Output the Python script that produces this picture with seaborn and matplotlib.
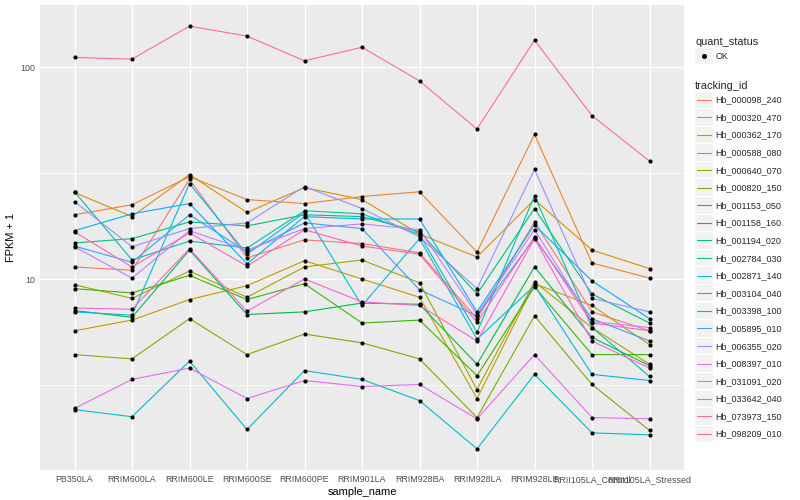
import numpy as np
import pandas as pd
import matplotlib
matplotlib.use('Agg')
import matplotlib.pyplot as plt
import seaborn as sns
from matplotlib.lines import Line2D
from matplotlib.patches import Rectangle
from matplotlib.legend_handler import HandlerBase
from matplotlib.ticker import NullFormatter

# samples on the x axis
samples = ['PB350LA', 'RRIM600LA', 'RRIM600LE', 'RRIM600SE', 'RRIM600PE', 'RRIM901LA',
           'RRIM928BA', 'RRIM928LA', 'RRIM928LE', 'RRII105LA_Control', 'RRII105LA_Stressed']

tracking_ids = ['Hb_000098_240', 'Hb_000320_470', 'Hb_000362_170', 'Hb_000588_080',
                'Hb_000640_070', 'Hb_000820_150', 'Hb_001153_050', 'Hb_001158_160',
                'Hb_001194_020', 'Hb_002784_030', 'Hb_002871_140', 'Hb_003104_040',
                'Hb_003398_100', 'Hb_005895_010', 'Hb_006355_020', 'Hb_008397_010',
                'Hb_031091_020', 'Hb_033642_040', 'Hb_073973_150', 'Hb_098209_010']

# FPKM + 1 per gene, in sample order
hb_000098_240 = [11.4, 11.0, 29.5, 12.6, 15.3, 14.7, 13.3, 6.5, 18.6, 7.0, 5.7]
hb_000320_470 = [20.1, 22.4, 30.4, 23.7, 22.7, 24.5, 25.8, 13.4, 48.1, 11.9, 10.1]
hb_000362_170 = [25.6, 19.7, 31.1, 20.6, 27.0, 23.7, 16.3, 12.7, 23.7, 13.7, 11.2]
hb_000588_080 = [5.7, 6.4, 8.0, 9.3, 12.2, 10.0, 8.2, 2.73, 9.5, 7.5, 4.9]
hb_000640_070 = [9.4, 8.1, 10.9, 8.2, 11.4, 12.3, 9.6, 3.01, 9.7, 5.9, 3.96]
hb_000820_150 = [4.4, 4.2, 6.5, 4.4, 5.5, 5.0, 4.2, 2.22, 6.7, 3.18, 1.93]
hb_001153_050 = [9.0, 8.6, 10.4, 8.0, 9.5, 6.2, 6.4, 3.5, 9.2, 4.4, 4.4]
hb_001158_160 = [7.1, 6.6, 13.7, 6.8, 7.0, 7.7, 7.6, 3.96, 11.4, 5.3, 3.9]
hb_001194_020 = [14.8, 15.5, 18.6, 17.8, 20.1, 19.7, 16.7, 8.5, 21.5, 8.5, 6.2]
hb_002784_030 = [25.8, 12.3, 15.1, 14.0, 21.0, 20.3, 16.2, 5.6, 24.7, 5.9, 3.47]
hb_002871_140 = [2.42, 2.24, 4.1, 1.95, 3.7, 3.36, 2.67, 1.58, 3.55, 1.88, 1.84]
hb_003104_040 = [7.0, 6.75, 28.2, 13.1, 20.6, 7.5, 15.5, 5.2, 9.3, 3.55, 3.32]
hb_003398_100 = [16.9, 20.3, 22.7, 11.8, 19.7, 19.2, 19.2, 7.0, 18.0, 9.8, 6.5]
hb_005895_010 = [14.3, 12.0, 20.1, 13.4, 18.4, 17.3, 8.9, 6.7, 15.6, 6.5, 5.1]
hb_006355_020 = [23.2, 14.2, 17.3, 18.4, 27.3, 21.5, 15.8, 9.0, 32.9, 8.1, 7.0]
hb_008397_010 = [14.2, 10.1, 16.9, 13.7, 17.3, 18.2, 17.1, 6.8, 17.1, 6.3, 5.9]
hb_031091_020 = [2.45, 3.36, 3.8, 2.73, 3.32, 3.11, 3.18, 2.19, 4.4, 2.22, 2.19]
hb_033642_040 = [7.3, 7.2, 13.9, 7.05, 10.0, 7.8, 7.5, 5.1, 15.5, 5.1, 3.8]
hb_073973_150 = [16.7, 11.4, 16.5, 11.5, 17.1, 14.3, 13.1, 6.25, 15.8, 6.2, 5.7]
hb_098209_010 = [111, 109, 156, 140, 107, 124, 86, 51, 134, 59, 36]

gene_values = [hb_000098_240, hb_000320_470, hb_000362_170, hb_000588_080, hb_000640_070,
               hb_000820_150, hb_001153_050, hb_001158_160, hb_001194_020, hb_002784_030,
               hb_002871_140, hb_003104_040, hb_003398_100, hb_005895_010, hb_006355_020,
               hb_008397_010, hb_031091_020, hb_033642_040, hb_073973_150, hb_098209_010]

# ggplot default hue palette for 20 groups
palette = ["#F8766D", "#EA8331", "#D89000", "#C09B00", "#A3A500", "#7CAE00", "#39B600",
           "#00BB4E", "#00BF7D", "#00C1A3", "#00BFC4", "#00BAE0", "#00B0F6", "#35A2FF",
           "#9590FF", "#C77CFF", "#E76BF3", "#FA62DB", "#FF62BC", "#FF6C91"]

rows = []
for gid, vals in zip(tracking_ids, gene_values):
    for s, v in zip(samples, vals):
        rows.append({'tracking_id': gid, 'sample_name': s, 'fpkm1': v, 'quant_status': 'OK'})
df = pd.DataFrame(rows)

sns.set_theme(style='darkgrid', rc={'axes.facecolor': '#EBEBEB', 'grid.color': 'white'})
plt.rcParams['font.family'] = ['Liberation Sans', 'DejaVu Sans']

fig, ax = plt.subplots(figsize=(8, 5), dpi=100)
fig.subplots_adjust(left=0.05, right=0.855, top=0.99, bottom=0.06)

sns.lineplot(data=df, x='sample_name', y='fpkm1', hue='tracking_id', hue_order=tracking_ids,
             palette=palette, sort=False, errorbar=None, legend=False, lw=0.8, ax=ax)
sns.scatterplot(data=df, x='sample_name', y='fpkm1', color='black', s=9, linewidth=0,
                legend=False, zorder=3, ax=ax)

ax.set_yscale('log')
lo, hi = np.log10(df['fpkm1'].min()), np.log10(df['fpkm1'].max())
pad = 0.05 * (hi - lo)
ax.set_ylim(10 ** (lo - pad), 10 ** (hi + pad))
ax.set_xlim(-0.6, len(samples) - 0.4)
ax.set_yticks([10, 100], labels=['10', '100'])
ax.set_yticks([10 ** 0.5, 10 ** 1.5], minor=True)
ax.yaxis.set_minor_formatter(NullFormatter())
ax.grid(which='major', color='white', lw=1.0)
ax.grid(which='minor', axis='y', color='white', lw=0.5)
ax.tick_params(axis='both', which='major', length=2, width=0.7, color='#333333',
               labelsize=6.4, labelcolor='#4D4D4D', pad=1.6)
ax.tick_params(axis='y', which='minor', length=0)
for sp in ax.spines.values():
    sp.set_visible(False)
ax.set_xlabel('sample_name', fontsize=7.9, labelpad=2, color='black')
ax.set_ylabel('FPKM + 1', fontsize=7.9, labelpad=3, color='black')


class GreyKey(HandlerBase):
    def create_artists(self, legend, orig, xdescent, ydescent, width, height, fontsize, trans):
        box = Rectangle((-xdescent, -ydescent + 0.4), width, height - 0.8,
                        facecolor='#F2F2F2', edgecolor='none', transform=trans)
        yc = -ydescent + height / 2
        if orig.get_marker() not in (None, 'None', '', ' '):
            art = Line2D([-xdescent + width / 2], [yc], marker='o', ms=2.6, color='black',
                         ls='none', transform=trans)
        else:
            art = Line2D([-xdescent + width * 0.1, -xdescent + width * 0.9], [yc, yc],
                         color=orig.get_color(), lw=0.8, transform=trans)
        return [box, art]


leg_kw = dict(loc='upper left', frameon=False, fontsize=6.5, title_fontsize=7.9,
              handler_map={Line2D: GreyKey()}, handlelength=1.92, handleheight=2.62,
              handletextpad=0.35, borderpad=0, borderaxespad=0, labelspacing=0,
              alignment='left')
ok_handle = Line2D([], [], marker='o', color='black', ls='none')
fig.legend([ok_handle], ['OK'], title='quant_status', bbox_to_anchor=(0.869, 0.926), **leg_kw)
line_handles = [Line2D([], [], color=c) for c in palette]
fig.legend(line_handles, tracking_ids, title='tracking_id', bbox_to_anchor=(0.869, 0.838), **leg_kw)

fig.savefig('out.png', dpi=100)
